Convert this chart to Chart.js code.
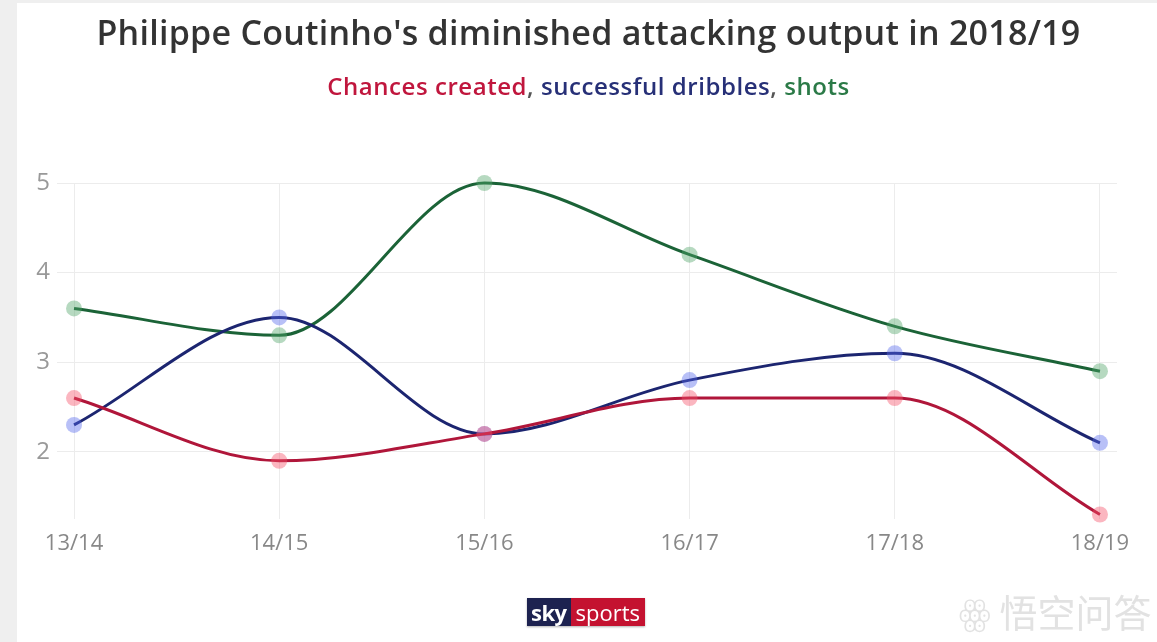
<!DOCTYPE html>
<html><head><meta charset="utf-8">
<script src="https://cdn.jsdelivr.net/npm/chart.js@4"></script>
<style>
html,body{margin:0;padding:0;}
body{width:1157px;height:642px;background:#efefef;position:relative;overflow:hidden;font-family:"Open Sans",sans-serif;}
#card{position:absolute;left:17px;top:3px;right:0;bottom:0;background:#fff;}
#c{position:absolute;left:0;top:0;}
#title{position:absolute;left:0;width:1177px;top:9px;text-align:center;font-size:34px;font-weight:600;color:#333;letter-spacing:0.25px;white-space:nowrap;}
#sub{position:absolute;left:0;width:1177px;top:69px;text-align:center;font-size:24px;letter-spacing:0.55px;white-space:nowrap;font-weight:600;}
#logo{position:absolute;left:527px;top:598px;height:28px;display:flex;font-weight:700;font-size:22px;color:#fff;line-height:28px;box-shadow:0 1px 2px rgba(0,0,0,0.3);}
#logo .a{background:#1d2250;padding:0 4px;letter-spacing:-0.5px;}
#logo .b{background:#c41230;padding:0 5px;font-weight:400;}
#wm{position:absolute;left:958px;top:583px;font-size:38px;color:#e2e2e2;font-family:"Noto Sans CJK SC",sans-serif;}
</style></head><body>
<div id="card"></div>
<canvas id="c" width="1157" height="642"></canvas>
<div id="title">Philippe Coutinho's diminished attacking output in 2018/19</div>
<div id="sub"><span style="color:#c0163d">Chances created</span><span style="color:#555">,</span> <span style="color:#273077">successful dribbles</span><span style="color:#555">,</span> <span style="color:#2b7a47">shots</span></div>
<div id="logo"><span class="a">sky</span><span class="b">sports</span></div>
<div id="wm">ꙮ 悟空问答</div>
<script>
const seasons = ["13/14","14/15","15/16","16/17","17/18","18/19"];
const chancesCreated = [2.6, 1.9, 2.2, 2.6, 2.6, 1.3];
const successfulDribbles = [2.3, 3.5, 2.2, 2.8, 3.1, 2.1];
const shots = [3.6, 3.3, 5.0, 4.2, 3.4, 2.9];
const yTicks = [2, 3, 4, 5];

const toPts = arr => arr.map((v, i) => ({x: i, y: v}));
function ds(data, line, fill) {
  return {data: toPts(data), borderColor: line, borderWidth: 3, pointRadius: 8,
    pointBackgroundColor: fill, pointBorderColor: fill, pointBorderWidth: 0,
    cubicInterpolationMode: 'monotone', clip: false, fill: false};
}
new Chart(document.getElementById('c'), {
  type: 'line',
  data: {datasets: [
    ds(chancesCreated, '#b0163a', 'rgba(245,80,105,0.42)'),
    ds(successfulDribbles, '#1c2570', 'rgba(85,105,235,0.42)'),
    ds(shots, '#1b6337', 'rgba(80,165,105,0.42)')
  ]},
  options: {
    responsive: false, animation: false, devicePixelRatio: 1,
    layout: {padding: {top: 183, right: 40, left: 0, bottom: 83}},
    plugins: {legend: {display: false}, tooltip: {enabled: false}},
    scales: {
      x: {type: 'linear', min: -0.083, max: 5.083,
        afterBuildTicks: s => { s.ticks = seasons.map((_, i) => ({value: i})); },
        afterFit: s => { s.height = 40; },
        grid: {color: '#ececec', drawTicks: false, lineWidth: 1},
        border: {display: false},
        ticks: {padding: 12, color: '#888', font: {family: 'Open Sans', size: 22},
          callback: (v) => seasons[Math.round(v)] ?? ''}
      },
      y: {min: 1.25, max: 5,
        afterBuildTicks: s => { s.ticks = yTicks.map(v => ({value: v})); },
        afterFit: s => { s.width = 57; },
        grid: {color: '#ececec', drawTicks: false, lineWidth: 1},
        border: {display: false},
        ticks: {padding: 7, color: '#999', font: {family: 'Open Sans', size: 24}}
      }
    }
  }
});
</script>
</body></html>
